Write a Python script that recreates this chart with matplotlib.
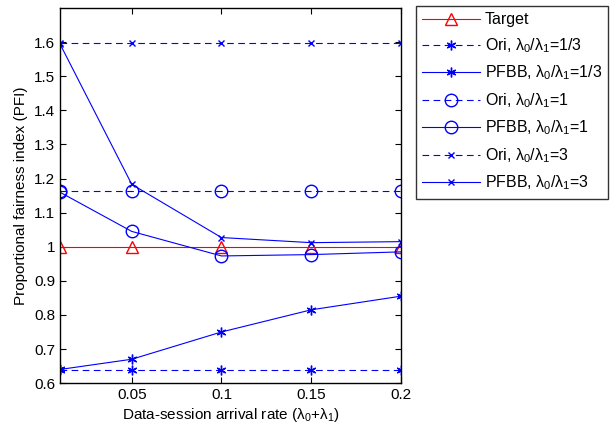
import matplotlib
matplotlib.use("Agg")
import matplotlib.pyplot as plt

plt.rcParams["font.family"] = ["Liberation Sans", "DejaVu Sans"]
plt.rcParams["mathtext.fontset"] = "custom"
plt.rcParams["mathtext.rm"] = "Liberation Sans"
plt.rcParams["mathtext.it"] = "Liberation Sans"

rate = [0.01, 0.05, 0.1, 0.15, 0.2]
target = [1.0, 1.0, 1.0, 1.0, 1.0]
ori_13 = [0.637, 0.637, 0.637, 0.637, 0.637]
pfbb_13 = [0.640, 0.670, 0.750, 0.815, 0.855]
ori_1 = [1.163, 1.163, 1.163, 1.163, 1.163]
pfbb_1 = [1.160, 1.045, 0.973, 0.977, 0.985]
ori_3 = [1.597, 1.597, 1.597, 1.597, 1.597]
pfbb_3 = [1.595, 1.183, 1.027, 1.012, 1.015]

xticks = [0.05, 0.1, 0.15, 0.2]
xticklabels = ["0.05", "0.1", "0.15", "0.2"]
yticks = [0.6, 0.7, 0.8, 0.9, 1.0, 1.1, 1.2, 1.3, 1.4, 1.5, 1.6]
yticklabels = ["0.6", "0.7", "0.8", "0.9", "1", "1.1", "1.2", "1.3", "1.4", "1.5", "1.6"]

ratio = r"$\lambda_0/\lambda_1$"
asterisk = (6, 2, 0)
blue = (0, 0, 1)
red = (1, 0, 0)

fig = plt.figure(figsize=(6.14, 4.29), dpi=100)
ax = fig.add_axes([0.0977, 0.107, 0.5553, 0.874])

lw = 0.8
ax.plot(rate, target, color=red, lw=lw, marker="^", ms=8, mfc="none", mec=red,
        label="Target")
ax.plot(rate, ori_13, color=blue, lw=lw, ls=(0, (6, 4)), marker=asterisk, ms=7,
        label="Ori, " + ratio + "=1/3")
ax.plot(rate, pfbb_13, color=blue, lw=lw, marker=asterisk, ms=7,
        label="PFBB, " + ratio + "=1/3")
ax.plot(rate, ori_1, color=blue, lw=lw, ls=(0, (6, 4)), marker="o", ms=9, mfc="none",
        label="Ori, " + ratio + "=1")
ax.plot(rate, pfbb_1, color=blue, lw=lw, marker="o", ms=9, mfc="none",
        label="PFBB, " + ratio + "=1")
ax.plot(rate, ori_3, color=blue, lw=lw, ls=(0, (6, 4)), marker="x", ms=4,
        label="Ori, " + ratio + "=3")
ax.plot(rate, pfbb_3, color=blue, lw=lw, marker="x", ms=4,
        label="PFBB, " + ratio + "=3")

ax.set_xlim(0.01, 0.2)
ax.set_ylim(0.6, 1.7)
ax.set_xticks(xticks)
ax.set_xticklabels(xticklabels)
ax.set_yticks(yticks)
ax.set_yticklabels(yticklabels)
ax.tick_params(direction="in", top=True, right=True, labelsize=11, length=4)
for s in ax.spines.values():
    s.set_linewidth(1.0)

ax.set_xlabel(r"Data-session arrival rate ($\lambda_0$+$\lambda_1$)", fontsize=11,
              labelpad=3)
ax.set_ylabel("Proportional fairness index (PFI)", fontsize=11)

leg = fig.legend(loc="upper left", bbox_to_anchor=(416 / 614, 1 - 6 / 429),
                 fontsize=11.5, handlelength=3.6, frameon=True, fancybox=False,
                 edgecolor="black", borderpad=0.4, labelspacing=0.55,
                 handletextpad=0.3, borderaxespad=0)
leg.get_frame().set_linewidth(1.0)

fig.savefig("out.png", dpi=100)
